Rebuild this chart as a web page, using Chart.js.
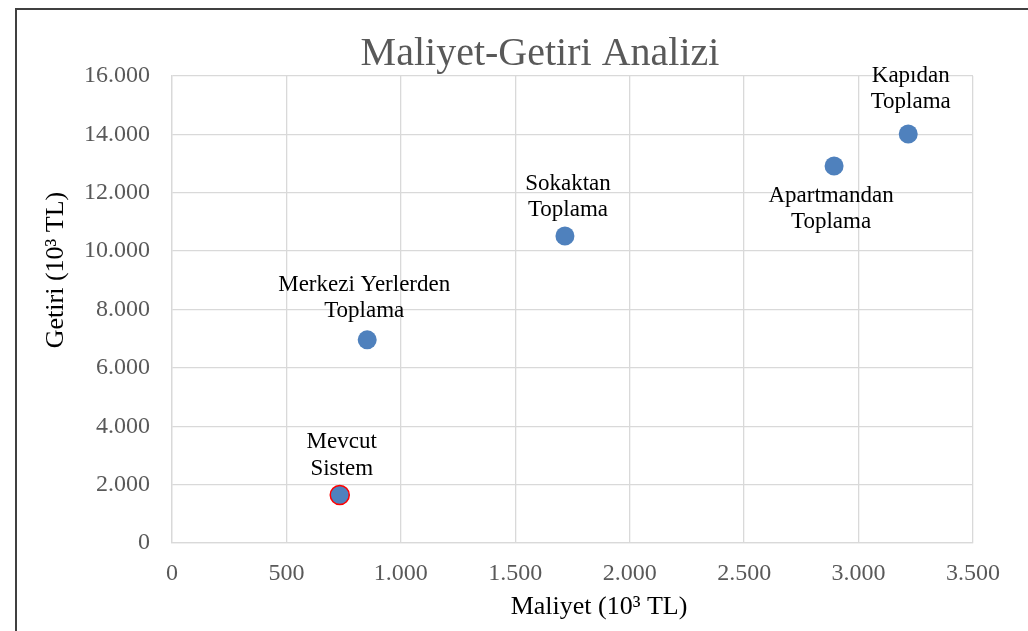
<!DOCTYPE html>
<html>
<head>
<meta charset="utf-8">
<script src="https://cdn.jsdelivr.net/npm/chart.js@4/dist/chart.umd.min.js"></script>
<style>
  html, body { margin: 0; padding: 0; background: #ffffff; }
  #wrap { width: 1028px; height: 631px; position: relative; }
</style>
</head>
<body>
<div id="wrap"><canvas id="c" width="1028" height="631"></canvas></div>
<script>
// ---- Data ----
const chartTitle = "Maliyet-Getiri Analizi";
const xAxisTitle = "Maliyet (10³ TL)";
const yAxisTitle = "Getiri (10³ TL)";
const pointNames = ["Mevcut\nSistem", "Merkezi Yerlerden\nToplama", "Sokaktan\nToplama", "Apartmandan\nToplama", "Kapıdan\nToplama"];
const maliyet = [733, 853, 1717, 2893, 3217];
const getiri = [1645, 6960, 10520, 12915, 14012];
const xTicks = [0, 500, 1000, 1500, 2000, 2500, 3000, 3500];
const yTicks = [0, 2000, 4000, 6000, 8000, 10000, 12000, 14000, 16000];

// ---- Styles (label placement offsets relative to each point) ----
const labelOffsets = [[2, -46.5], [-3, -49.3], [3, -46], [-3, 35.7], [2.5, -52.3]];
const pointBorders = ["#FF0000", "#4F81BD", "#4F81BD", "#4F81BD", "#4F81BD"];
const pointBorderWidths = [1.5, 0, 0, 0, 0];

const SERIF = "'Liberation Serif', 'Times New Roman', serif";

function trFormat(v) {
  const s = Math.round(v).toString();
  return s.replace(/\B(?=(\d{3})+(?!\d))/g, ".");
}

const points = maliyet.map((x, i) => ({ x: x, y: getiri[i] }));

const decorPlugin = {
  id: 'decor',
  afterDraw(chart) {
    const ctx = chart.ctx;
    ctx.save();
    // frame
    ctx.strokeStyle = "#404040";
    ctx.lineWidth = 2;
    ctx.beginPath();
    ctx.moveTo(16, 631);
    ctx.lineTo(16, 9);
    ctx.lineTo(1028, 9);
    ctx.stroke();
    // title
    ctx.fillStyle = "#595959";
    ctx.font = "40px " + SERIF;
    ctx.textAlign = "center";
    ctx.textBaseline = "alphabetic";
    ctx.fillText(chartTitle, 540, 65);
    // axis titles
    ctx.fillStyle = "#000000";
    ctx.font = "26px " + SERIF;
    ctx.textBaseline = "middle";
    ctx.fillText(xAxisTitle, 599, 607);
    ctx.save();
    ctx.translate(56, 270);
    ctx.rotate(-Math.PI / 2);
    ctx.fillText(yAxisTitle, 0, 0);
    ctx.restore();
    // point labels
    const meta = chart.getDatasetMeta(0);
    ctx.font = "23px " + SERIF;
    ctx.textBaseline = "alphabetic";
    ctx.fillStyle = "#000000";
    meta.data.forEach((el, i) => {
      const lines = pointNames[i].split("\n");
      const off = labelOffsets[i];
      lines.forEach((ln, j) => {
        ctx.fillText(ln, el.x + off[0], el.y + off[1] + j * 26.5);
      });
    });
    ctx.restore();
  }
};

new Chart(document.getElementById('c'), {
  type: 'scatter',
  data: {
    datasets: [{
      data: points,
      backgroundColor: "#4F81BD",
      borderColor: pointBorders,
      borderWidth: pointBorderWidths,
      pointRadius: 9.5,
      pointHoverRadius: 9.5
    }]
  },
  options: {
    responsive: false,
    animation: false,
    devicePixelRatio: 1,
    layout: { padding: { top: 76, right: 55, left: 0, bottom: 0 } },
    plugins: {
      legend: { display: false },
      title: { display: false },
      tooltip: { enabled: false }
    },
    scales: {
      x: {
        type: 'linear',
        min: 0, max: 3500,
        afterFit(scale) { scale.height = 88; },
        afterBuildTicks(scale) { scale.ticks = xTicks.map(v => ({ value: v })); },
        grid: { color: "#D9D9D9", lineWidth: 1.3, drawTicks: false },
        border: { color: "#D9D9D9", width: 1.3 },
        ticks: {
          padding: 16,
          color: "#595959",
          font: { family: SERIF, size: 24 },
          callback: v => trFormat(v)
        }
      },
      y: {
        type: 'linear',
        min: 0, max: 16000,
        afterFit(scale) { scale.width = 172; },
        afterBuildTicks(scale) { scale.ticks = yTicks.map(v => ({ value: v })); },
        grid: { color: "#D9D9D9", lineWidth: 1.3, drawTicks: false },
        border: { color: "#D9D9D9", width: 1.3 },
        ticks: {
          padding: 22,
          color: "#595959",
          font: { family: SERIF, size: 24 },
          callback: v => trFormat(v)
        }
      }
    }
  },
  plugins: [decorPlugin]
});
</script>
</body>
</html>
